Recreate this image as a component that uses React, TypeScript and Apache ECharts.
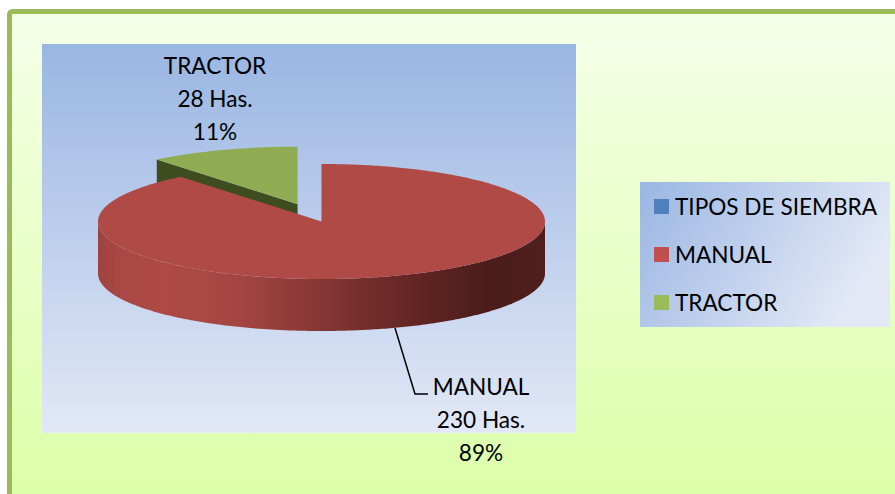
import React, { useEffect, useRef } from "react";
import * as echarts from "echarts";

const categories = ["TIPOS DE SIEMBRA", "MANUAL", "TRACTOR"];
const values = [0, 230, 28];
const percents = [0, 89, 11];
const exploded = [0, 0, 0.32];
const legendColors = ["#4F81BD", "#C0504D", "#9BBB59"];
const topColors = ["#4F81BD", "#AF4A47", "#8FAC53"];
const wallColors = ["#2A4566", "#4E1E1C", "#3F4C20"];

const FONT = "Lato, 'Open Sans', sans-serif";
const CX = 321.5;
const CY = 221.5;
const RX = 223.5;
const RY = 57.5;
const DEPTH = 52;

const total = values.reduce((a, b) => a + b, 0);

function sliceAngles(i: number) {
  const before = values.slice(0, i).reduce((a, b) => a + b, 0);
  return [(before / total) * 2 * Math.PI, ((before + values[i]) / total) * 2 * Math.PI];
}

function arcPoints(a0: number, a1: number, cx: number, cy: number) {
  const n = Math.max(2, Math.ceil(Math.abs(a1 - a0) / 0.012));
  const pts: number[][] = [];
  for (let k = 0; k <= n; k++) {
    const a = a0 + ((a1 - a0) * k) / n;
    pts.push([cx + RX * Math.sin(a), cy - RY * Math.cos(a)]);
  }
  return pts;
}

function renderSlice(i: number) {
  return () => {
    if (!values[i]) return { type: "group", children: [] };
    const [a0, a1] = sliceAngles(i);
    const mid = (a0 + a1) / 2;
    const cx = CX + RX * exploded[i] * Math.sin(mid);
    const cy = CY - RY * exploded[i] * Math.cos(mid);
    const children: any[] = [];

    // Front rim: the part of the arc facing the viewer (angles 90deg to 270deg).
    const f0 = Math.max(a0, Math.PI / 2);
    const f1 = Math.min(a1, (3 * Math.PI) / 2);
    if (f1 > f0) {
      const upper = arcPoints(f0, f1, cx, cy);
      const lower = arcPoints(f1, f0, cx, cy + DEPTH);
      children.push({
        type: "polygon",
        shape: { points: upper.concat(lower) },
        style: {
          fill: new echarts.graphic.LinearGradient(
            0, 0, 1, 0,
            [
              { offset: 0, color: "#9E4340" },
              { offset: 0.04, color: "#A84744" },
              { offset: 0.15, color: "#AE4A46" },
              { offset: 0.32, color: "#A34542" },
              { offset: 0.5, color: "#853634" },
              { offset: 0.7, color: "#642624" },
              { offset: 0.88, color: "#4A1C1A" },
              { offset: 1, color: "#4E1F1D" },
            ]
          ),
        },
      });
    }

    // Cut wall at the leading edge of the wedge, seen from the front.
    if (a0 > Math.PI) {
      const edge = [cx + RX * Math.sin(a0), cy - RY * Math.cos(a0)];
      children.push({
        type: "polygon",
        shape: {
          points: [
            edge,
            [cx, cy],
            [cx, cy + DEPTH],
            [edge[0], edge[1] + DEPTH],
          ],
        },
        style: { fill: wallColors[i] },
      });
    }

    // Top face.
    children.push({
      type: "polygon",
      shape: { points: [[cx, cy] as number[]].concat(arcPoints(a0, a1, cx, cy)) },
      style: { fill: topColors[i] },
    });

    return { type: "group", children };
  };
}

const dataLabels = [
  null,
  { x: 481, y: 419.5 },
  { x: 215, y: 98.5 },
];

export default function App() {
  const ref = useRef<HTMLDivElement>(null);

  useEffect(() => {
    const chart = echarts.init(ref.current!, undefined, { renderer: "svg" });
    const labelText = (i: number) =>
      `${categories[i]}\n${values[i]} Has.\n${percents[i]}%`;

    chart.setOption({
      animation: false,
      backgroundColor: "#FFFFFF",
      legend: {
        data: categories,
        orient: "vertical",
        left: 654,
        top: 191.5,
        icon: "rect",
        itemWidth: 15,
        itemHeight: 15,
        itemGap: 18,
        padding: 0,
        selectedMode: false,
        textStyle: {
          fontFamily: FONT,
          fontSize: 22.6,
          color: "#000000",
          padding: [0, 0, 4, 1],
          lineHeight: 26,
        },
        z: 5,
      },
      graphic: [
        {
          type: "rect",
          z: 0,
          silent: true,
          shape: { x: 9.5, y: 11.5, width: 900, height: 490, r: 3 },
          style: {
            stroke: "#9BBB59",
            lineWidth: 5,
            fill: new echarts.graphic.LinearGradient(0, 0, 0, 1, [
              { offset: 0, color: "#F5FFE8" },
              { offset: 1, color: "#DCFFA8" },
            ]),
          },
        },
        {
          type: "rect",
          z: 1,
          silent: true,
          shape: { x: 42, y: 44, width: 534, height: 389 },
          style: {
            fill: new echarts.graphic.LinearGradient(0, 0, 0, 1, [
              { offset: 0, color: "#9AB6E3" },
              { offset: 1, color: "#E2E8F6" },
            ]),
          },
        },
        {
          type: "rect",
          z: 1,
          silent: true,
          shape: { x: 640, y: 182, width: 250, height: 145 },
          style: {
            fill: new echarts.graphic.LinearGradient(0, 0, 1, 0.35, [
              { offset: 0, color: "#9AB6E3" },
              { offset: 1, color: "#E2E8F6" },
            ]),
          },
        },
        {
          type: "polyline",
          z: 4,
          silent: true,
          shape: { points: [[395, 328], [415, 394], [428, 394]] },
          style: { stroke: "#000000", lineWidth: 1.5, fill: "none" },
        },
        ...[1, 2].map((i) => ({
          type: "text",
          z: 4,
          silent: true,
          x: dataLabels[i]!.x,
          y: dataLabels[i]!.y,
          style: {
            text: labelText(i),
            fill: "#000000",
            font: `22.6px ${FONT}`,
            lineHeight: 32.7,
            align: "center",
            verticalAlign: "middle",
          },
        })),
      ],
      series: [0, 2, 1].map((i) => ({
        type: "custom",
        name: categories[i],
        coordinateSystem: "none",
        silent: true,
        z: i === 1 ? 3 : 2,
        itemStyle: { color: legendColors[i] },
        data: [values[i]],
        renderItem: renderSlice(i),
      })),
    });
    return () => chart.dispose();
  }, []);

  return (
    <div
      ref={ref}
      style={{ position: "fixed", left: 0, top: 0, width: 895, height: 494 }}
    />
  );
}
